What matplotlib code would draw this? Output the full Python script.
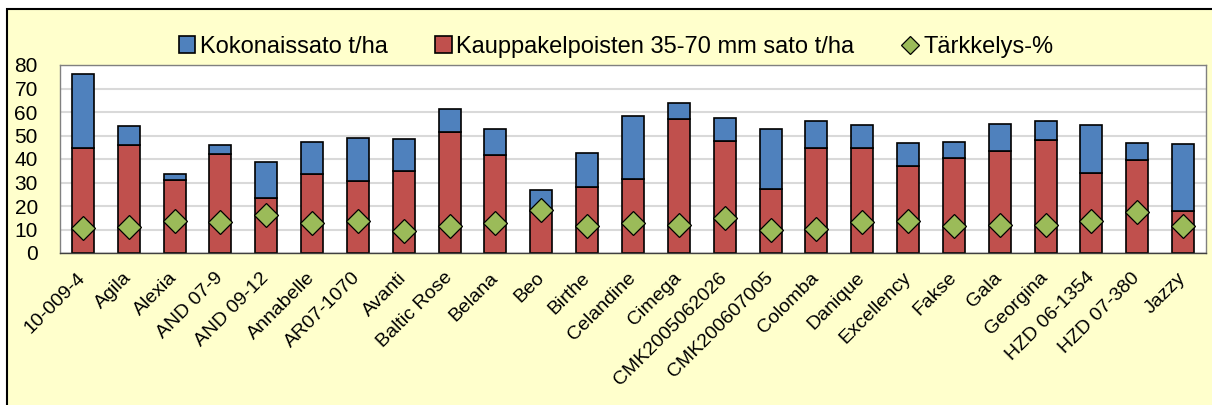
import matplotlib.pyplot as plt
import numpy as np
from matplotlib.patches import Rectangle

# values
lajikkeet = ['10-009-4', 'Agila', 'Alexia', 'AND 07-9', 'AND 09-12', 'Annabelle',
             'AR07-1070', 'Avanti', 'Baltic Rose', 'Belana', 'Beo', 'Birthe',
             'Celandine', 'Cimega', 'CMK2005062026', 'CMK200607005', 'Colomba',
             'Danique', 'Excellency', 'Fakse', 'Gala', 'Georgina', 'HZD 06-1354',
             'HZD 07-380', 'Jazzy']
kokonaissato = [76.2, 54.0, 33.7, 46.1, 38.6, 47.1, 49.1, 48.4, 61.2, 52.6, 26.7, 42.6,
                58.5, 63.9, 57.4, 52.7, 56.2, 54.6, 46.8, 47.2, 54.9, 56.0, 54.3,
                47.0, 46.4]
kauppakelpoinen = [44.8, 46.1, 31.0, 42.3, 23.2, 33.5, 30.7, 34.7, 51.5, 41.9, 18.0, 28.1,
                   31.3, 57.1, 47.8, 27.4, 44.8, 44.5, 37.0, 40.6, 43.6, 48.2, 34.2,
                   39.5, 17.8]
tarkkelys = [10.5, 11.2, 13.7, 13.3, 16.1, 12.9, 13.6, 9.3, 11.5, 12.9, 18.2, 11.5,
             12.6, 11.9, 14.7, 9.8, 10.3, 13.3, 13.7, 11.5, 12.0, 11.8, 13.6,
             17.4, 11.5]

plt.rcParams['font.family'] = ['Liberation Sans', 'DejaVu Sans']

W, H = 1212, 405
fig = plt.figure(figsize=(W / 100, H / 100), dpi=100)
fig.patch.set_facecolor('white')

# yellow chart area with black border (cut off at right and bottom)
tausta = Rectangle((7 / W, -0.05), 1.1, 1 - 9 / H + 0.05, transform=fig.transFigure,
                   facecolor='#FFFFCC', edgecolor='black', linewidth=1.5, zorder=-5)
fig.patches.append(tausta)

ax = fig.add_axes([60 / W, (H - 253) / H, 1146 / W, 188 / H])
ax.set_zorder(2)
ax.set_facecolor('white')

x = np.arange(len(lajikkeet))
kauppa = np.array(kauppakelpoinen)
ylijaama = np.array(kokonaissato) - kauppa

bw = 0.48
b_kauppa = ax.bar(x, kauppa, bw, color='#C0504D', edgecolor='black', linewidth=1.2, zorder=2)
b_koko = ax.bar(x, ylijaama, bw, bottom=kauppa, color='#4F81BD', edgecolor='black',
                linewidth=1.2, zorder=2)
l_tark, = ax.plot(x, tarkkelys, linestyle='none', marker='D', markersize=12, color='#9BBB59',
                  markeredgecolor='black', markeredgewidth=0.9, zorder=3)

ax.set_xlim(-0.5, len(lajikkeet) - 0.5)
ax.set_ylim(0, 80)
ax.set_yticks(range(0, 81, 10))
ax.yaxis.grid(True, color='#D9D9D9', linewidth=1.5, zorder=0)
ax.set_axisbelow(True)
for s in ax.spines.values():
    s.set_color('#808080')
    s.set_linewidth(1.0)
ax.spines['bottom'].set_color('#404040')

ax.tick_params(axis='y', length=0, pad=16, labelsize=15)
ax.tick_params(axis='x', length=0, pad=16, labelsize=14)
ax.set_xticks(x)
ax.set_xticklabels(lajikkeet, rotation=45, ha='right', va='center', rotation_mode='anchor')

leg = fig.legend([b_koko, b_kauppa, l_tark],
                 ['Kokonaissato t/ha', 'Kauppakelpoisten 35-70 mm sato t/ha', 'Tärkkelys-%'],
                 loc='center', bbox_to_anchor=(616 / W, 1 - 47 / H), ncol=3, frameon=False,
                 fontsize=17, handlelength=0.7, handletextpad=0.2, columnspacing=2.0,
                 markerscale=0.75)
leg.set_zorder(3)

fig.savefig('out.png', dpi=100, facecolor=fig.get_facecolor())
